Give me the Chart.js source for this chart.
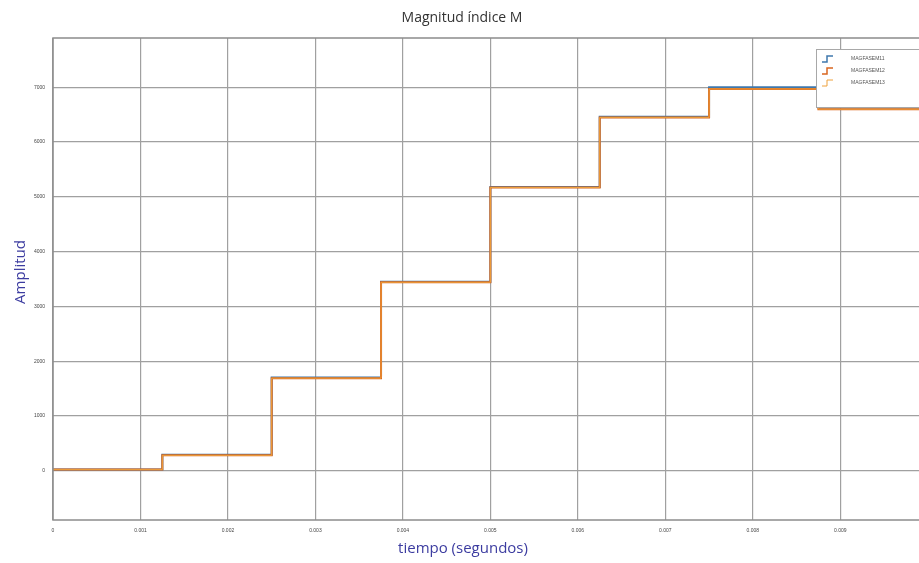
<!DOCTYPE html>
<html>
<head>
<meta charset="utf-8">
<script src="https://cdn.jsdelivr.net/npm/chart.js@4.4.1/dist/chart.umd.min.js"></script>
<style>
  html, body { margin: 0; padding: 0; background: #fff; }
  #wrap { width: 919px; height: 563px; position: relative; }
</style>
</head>
<body>
<div id="wrap"><canvas id="magChart"></canvas></div>
<script>
// step times (s) and the held value of each series after each step
const stepTimes = [0, 0.00125, 0.0025, 0.00375, 0.005, 0.00625, 0.0075, 0.00875, 0.0099];
const magM11 = [20, 290, 1700, 3450, 5180, 6460, 7000, 6630, 6630];
const magM12 = [20, 280, 1690, 3440, 5170, 6450, 6970, 6600, 6600];
const magM13 = [20, 280, 1690, 3440, 5170, 6450, 6970, 6600, 6600];
const seriesNames = ['MAGFASEM11', 'MAGFASEM12', 'MAGFASEM13'];
const seriesColors = ['#3f78ad', '#d9651f', '#eea13c'];
const xTicks = [0, 0.001, 0.002, 0.003, 0.004, 0.005, 0.006, 0.007, 0.008, 0.009];
const yTicks = [0, 1000, 2000, 3000, 4000, 5000, 6000, 7000];

const toPoints = (vals) => stepTimes.map((t, i) => ({ x: t, y: vals[i] }));

const CHART_LEFT = 53;
const CHART_TOP = 38;
const X_AXIS_H = 43;

const frameAndText = {
  id: 'frameAndText',
  afterDraw(chart) {
    const { ctx, chartArea: a } = chart;
    ctx.save();
    // plot frame
    ctx.strokeStyle = '#8c8c8c';
    ctx.lineWidth = 1.5;
    ctx.strokeRect(a.left, a.top, a.right - a.left + 2, a.bottom - a.top);

    // title
    ctx.fillStyle = '#333';
    ctx.font = '14px "Open Sans", "Liberation Sans", sans-serif';
    ctx.textAlign = 'center';
    ctx.textBaseline = 'middle';
    ctx.fillText('Magnitud índice M', 462, 18);

    // axis titles
    ctx.fillStyle = '#3c3ca0';
    ctx.font = '15px "Open Sans", "Liberation Sans", sans-serif';
    ctx.fillText('tiempo (segundos)', 463, 549);
    ctx.translate(21, 272);
    ctx.rotate(-Math.PI / 2);
    ctx.fillText('Amplitud', 0, 0);
    ctx.restore();

    // legend box
    ctx.save();
    const bx = 816, by = 49, bw = 104, bh = 58;
    ctx.fillStyle = '#fff';
    ctx.fillRect(bx, by, bw, bh);
    ctx.strokeStyle = '#a8a8a8';
    ctx.lineWidth = 1;
    ctx.strokeRect(bx + 0.5, by + 0.5, bw, bh);
    const rows = [59, 71, 83];
    ctx.font = '5px "Liberation Sans", sans-serif';
    ctx.textAlign = 'left';
    ctx.textBaseline = 'middle';
    rows.forEach((ry, i) => {
      ctx.strokeStyle = seriesColors[i];
      ctx.lineWidth = i === 2 ? 1 : 1.5;
      ctx.beginPath();
      ctx.moveTo(822, ry + 3);
      ctx.lineTo(827, ry + 3);
      ctx.lineTo(827, ry - 3);
      ctx.lineTo(833, ry - 3);
      ctx.stroke();
      ctx.fillStyle = '#555';
      ctx.fillText(seriesNames[i], 851, ry);
    });
    ctx.restore();
  }
};

new Chart(document.getElementById('magChart'), {
  type: 'line',
  data: {
    datasets: [
      { label: seriesNames[0], data: toPoints(magM11), borderColor: seriesColors[0], borderWidth: 2, order: 3 },
      { label: seriesNames[1], data: toPoints(magM12), borderColor: seriesColors[1], borderWidth: 2, order: 2 },
      { label: seriesNames[2], data: toPoints(magM13), borderColor: seriesColors[2], borderWidth: 1, order: 1 },
    ].map((d) => ({ ...d, stepped: true, pointRadius: 0, fill: false })),
  },
  options: {
    responsive: true,
    maintainAspectRatio: false,
    animation: false,
    layout: { padding: { left: 0, right: 0, top: CHART_TOP, bottom: 0 } },
    plugins: {
      legend: { display: false },
      tooltip: { enabled: false },
    },
    scales: {
      x: {
        type: 'linear',
        min: 0,
        max: 0.0099,
        afterFit(scale) { scale.height = X_AXIS_H; },
        afterBuildTicks(scale) { scale.ticks = xTicks.map((v) => ({ value: v })); },
        grid: { color: '#a0a0a0', lineWidth: 1.2, drawTicks: false },
        border: { display: false },
        ticks: {
          padding: 8,
          maxRotation: 0,
          autoSkip: false,
          color: '#444',
          font: { size: 5, family: 'Liberation Sans' },
          callback: (v) => String(+v.toFixed(3)),
        },
      },
      y: {
        min: -900,
        max: 7900,
        afterFit(scale) { scale.width = CHART_LEFT; },
        afterBuildTicks(scale) { scale.ticks = yTicks.map((v) => ({ value: v })); },
        grid: { color: '#a0a0a0', lineWidth: 1.2, drawTicks: false },
        border: { display: false },
        ticks: {
          padding: 8,
          color: '#444',
          font: { size: 5, family: 'Liberation Sans' },
          callback: (v) => String(v),
        },
      },
    },
  },
  plugins: [frameAndText],
});
</script>
</body>
</html>
